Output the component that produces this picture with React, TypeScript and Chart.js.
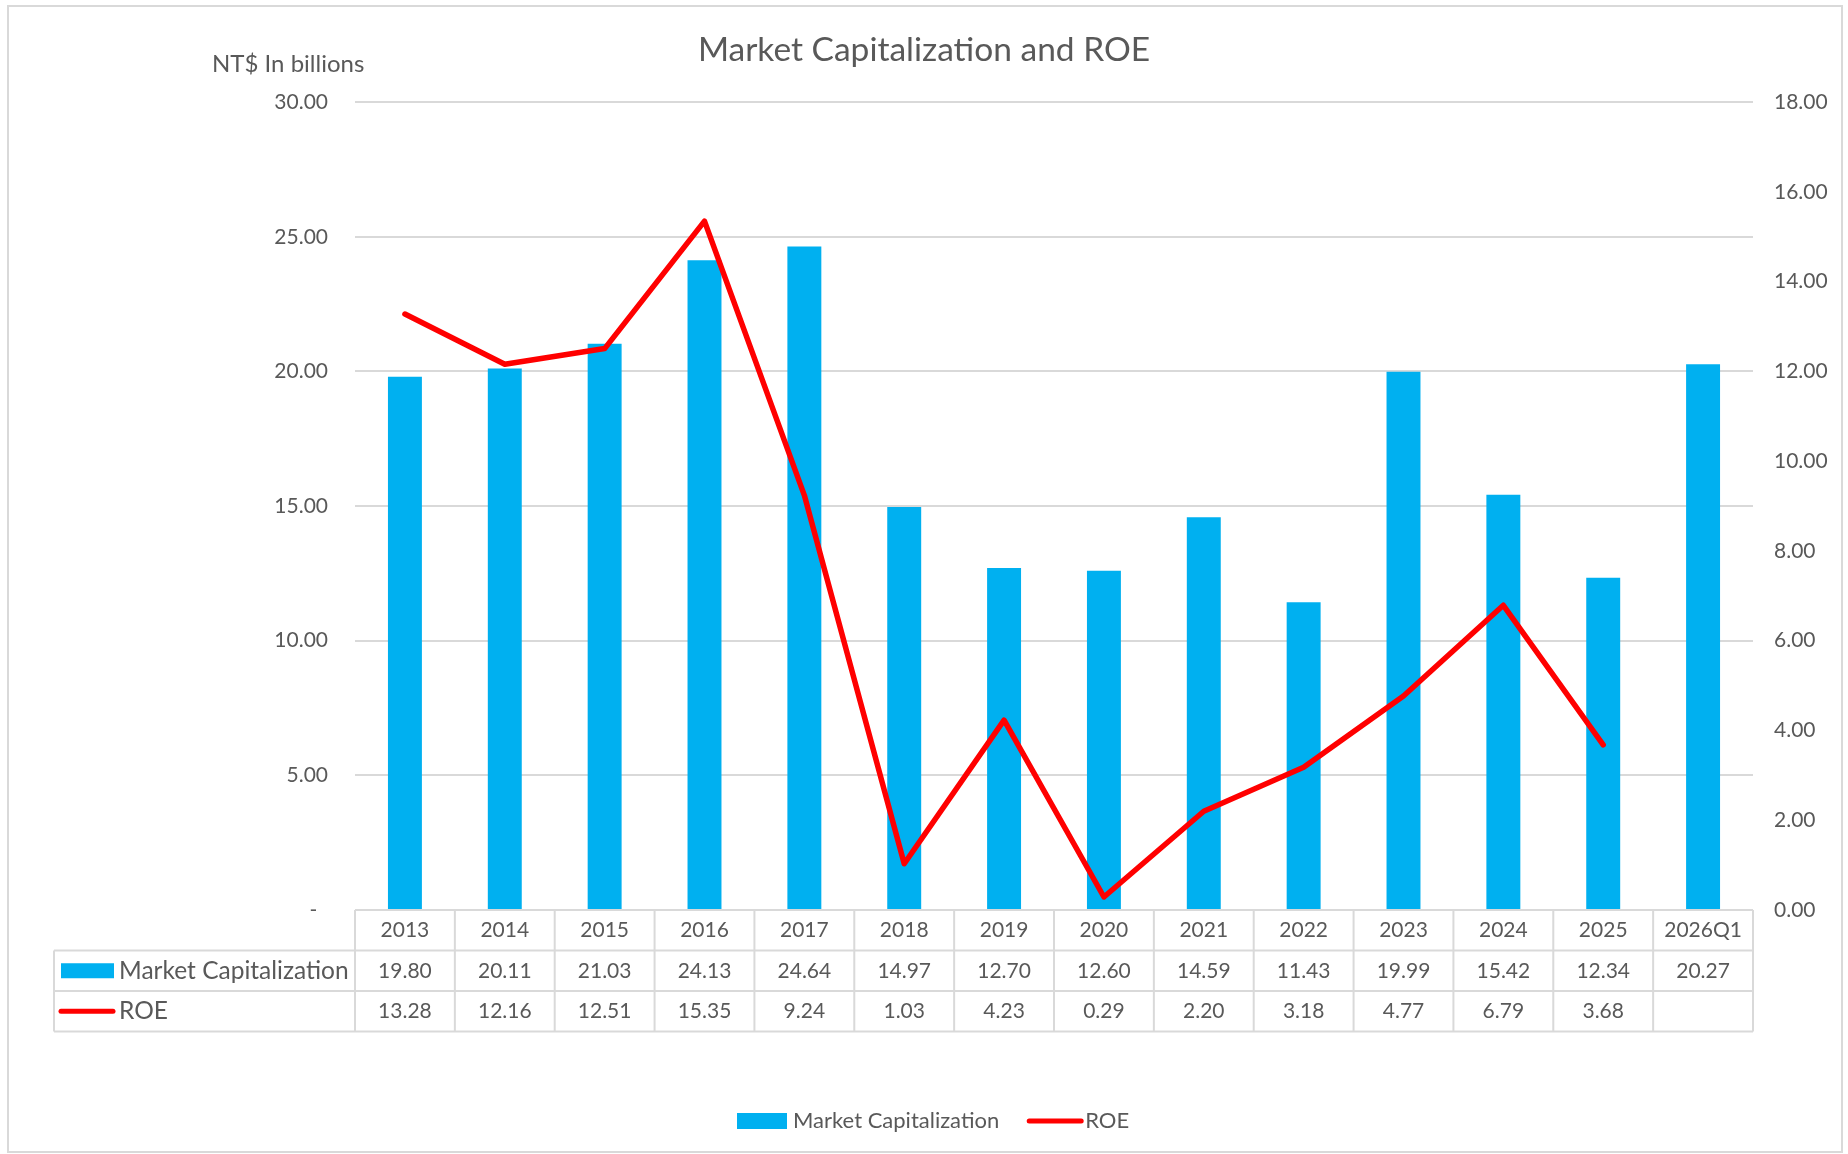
import React, { useEffect, useRef } from "react";
import { Chart, registerables } from "chart.js";

Chart.register(...registerables);

const categories = ["2013", "2014", "2015", "2016", "2017", "2018", "2019", "2020", "2021", "2022", "2023", "2024", "2025", "2026Q1"];
const marketCap = [19.8, 20.11, 21.03, 24.13, 24.64, 14.97, 12.7, 12.6, 14.59, 11.43, 19.99, 15.42, 12.34, 20.27];
const roe: (number | null)[] = [13.28, 12.16, 12.51, 15.35, 9.24, 1.03, 4.23, 0.29, 2.2, 3.18, 4.77, 6.79, 3.68, null];
const leftAxis = { min: 0, max: 30, step: 5 };
const rightAxis = { min: 0, max: 18, step: 2 };

const TITLE = "Market Capitalization and ROE";
const Y_TITLE = "NT$ In billions";
const MC_LABEL = "Market Capitalization";
const ROE_LABEL = "ROE";

const FONT = "Lato, 'Open Sans', sans-serif";
const TEXT = "#595959";
const GRID = "#D9D9D9";
const BLUE = "#00B0F0";
const RED = "#FF0000";
const FS = 21;
const FS_LABEL = 24.5;
const FS_LEGEND = 22;

const W = 1848;
const H = 1154;

const extrasPlugin = {
  id: "extras",
  beforeDraw(chart: any) {
    const ctx = chart.ctx;
    ctx.save();
    ctx.fillStyle = "#ffffff";
    ctx.fillRect(0, 0, chart.width, chart.height);
    ctx.strokeStyle = GRID;
    ctx.lineWidth = 2;
    ctx.strokeRect(8, 6, chart.width - 14, chart.height - 8);
    ctx.restore();
  },
  afterDraw(chart: any) {
    const { ctx, chartArea, scales } = chart;
    const xs = scales.x;
    const n = categories.length;
    const colW = (chartArea.right - chartArea.left) / n;
    const top = chartArea.bottom;
    const rowH = 40.5;
    const tableLeft = 54;
    ctx.save();
    ctx.strokeStyle = GRID;
    ctx.lineWidth = 2;
    ctx.beginPath();
    ctx.moveTo(chartArea.left, top);
    ctx.lineTo(chartArea.right, top);
    for (let r = 1; r <= 3; r++) {
      ctx.moveTo(tableLeft, top + r * rowH);
      ctx.lineTo(chartArea.right, top + r * rowH);
    }
    for (let i = 0; i <= n; i++) {
      const xx = chartArea.left + i * colW;
      ctx.moveTo(xx, top);
      ctx.lineTo(xx, top + 3 * rowH);
    }
    ctx.moveTo(tableLeft, top + rowH);
    ctx.lineTo(tableLeft, top + 3 * rowH);
    ctx.stroke();

    // values
    ctx.fillStyle = TEXT;
    ctx.font = `${FS}px ${FONT}`;
    ctx.textAlign = "center";
    ctx.textBaseline = "middle";
    const y1 = top + rowH * 1.5;
    const y2 = top + rowH * 2.5;
    marketCap.forEach((v, i) => {
      ctx.fillText(v.toFixed(2), xs.getPixelForValue(i), y1);
    });
    roe.forEach((v, i) => {
      if (v !== null) ctx.fillText(v.toFixed(2), xs.getPixelForValue(i), y2);
    });
    // row headers
    ctx.font = `${FS_LABEL}px ${FONT}`;
    ctx.textAlign = "left";
    ctx.fillStyle = BLUE;
    ctx.fillRect(61, y1 - 7.5, 53, 15);
    ctx.fillStyle = TEXT;
    ctx.fillText(MC_LABEL, 119, y1);
    ctx.strokeStyle = RED;
    ctx.lineWidth = 5;
    ctx.lineCap = "round";
    ctx.beginPath();
    ctx.moveTo(61, y2);
    ctx.lineTo(113, y2);
    ctx.stroke();
    ctx.fillText(ROE_LABEL, 119, y2);

    // y axis title
    ctx.font = `24px ${FONT}`;
    ctx.fillText(Y_TITLE, 212, 64);

    // legend
    ctx.font = `${FS_LEGEND}px ${FONT}`;
    const ly = 1121;
    let lx = 737;
    ctx.fillStyle = BLUE;
    ctx.fillRect(lx, ly - 8, 50, 16);
    lx += 56;
    ctx.fillStyle = TEXT;
    ctx.fillText(MC_LABEL, lx, ly);
    lx += ctx.measureText(MC_LABEL).width + 30;
    ctx.strokeStyle = RED;
    ctx.lineWidth = 5;
    ctx.beginPath();
    ctx.moveTo(lx, ly);
    ctx.lineTo(lx + 52, ly);
    ctx.stroke();
    lx += 56;
    ctx.fillText(ROE_LABEL, lx, ly);
    ctx.restore();
  },
};

export default function App() {
  const ref = useRef<HTMLCanvasElement | null>(null);
  useEffect(() => {
    if (!ref.current) return;
    const chart = new Chart(ref.current, {
      type: "bar",
      data: {
        labels: categories,
        datasets: [
          {
            type: "line",
            label: ROE_LABEL,
            data: roe,
            yAxisID: "y1",
            borderColor: RED,
            backgroundColor: RED,
            borderWidth: 5.5,
            pointRadius: 0,
            tension: 0,
            borderCapStyle: "round",
            borderJoinStyle: "round",
            order: 0,
          } as any,
          {
            type: "bar",
            label: MC_LABEL,
            data: marketCap,
            yAxisID: "y",
            backgroundColor: BLUE,
            borderWidth: 0,
            categoryPercentage: 1,
            barPercentage: 0.34,
            order: 1,
          },
        ],
      },
      options: {
        responsive: false,
        animation: false,
        devicePixelRatio: 1,
        layout: { padding: { left: 0, right: 0, top: 0, bottom: 0 } },
        plugins: {
          legend: { display: false },
          tooltip: { enabled: false },
          title: {
            display: true,
            text: TITLE,
            color: TEXT,
            font: { family: FONT, size: 33.5, weight: "normal" },
            padding: { top: 30, bottom: 32 },
          },
        },
        scales: {
          x: {
            grid: { display: false, drawTicks: false },
            border: { display: false },
            ticks: { color: TEXT, font: { family: FONT, size: FS }, padding: 8, maxRotation: 0, autoSkip: false },
            afterFit(scale: any) {
              scale.height = 244;
            },
          },
          y: {
            position: "left",
            min: leftAxis.min,
            max: leftAxis.max,
            grid: { color: GRID, lineWidth: 2, drawTicks: false },
            border: { display: false },
            ticks: {
              stepSize: leftAxis.step,
              color: TEXT,
              font: { family: FONT, size: FS },
              padding: 27,
              callback: (v: any) => (Number(v) === 0 ? "-  " : Number(v).toFixed(2)),
            },
            afterFit(scale: any) {
              scale.width = 355;
            },
          },
          y1: {
            position: "right",
            min: rightAxis.min,
            max: rightAxis.max,
            grid: { display: false, drawTicks: false },
            border: { display: false },
            ticks: {
              stepSize: rightAxis.step,
              color: TEXT,
              font: { family: FONT, size: FS },
              padding: 21,
              callback: (v: any) => Number(v).toFixed(2),
            },
            afterFit(scale: any) {
              scale.width = W - 1753;
            },
          },
        },
      },
      plugins: [extrasPlugin],
    });
    return () => chart.destroy();
  }, []);
  return (
    <div style={{ position: "absolute", left: 0, top: 0, width: W, height: H }}>
      <canvas ref={ref} width={W} height={H} style={{ display: "block" }} />
    </div>
  );
}
